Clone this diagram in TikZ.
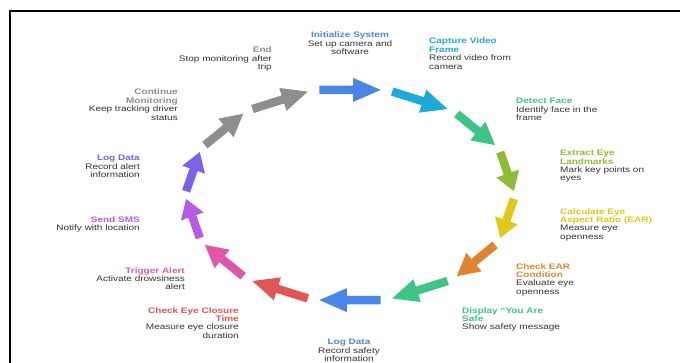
\documentclass[tikz,border=0pt]{standalone}
\usepackage{fontspec}
\setmainfont[FakeStretch=1.25]{Liberation Sans}
\usetikzlibrary{calc}
\definecolor{cBlue}{HTML}{4A86E8}
\definecolor{cCyan}{HTML}{1EAAD8}
\definecolor{cGreen}{HTML}{3CC585}
\definecolor{cLime}{HTML}{8FBC35}
\definecolor{cYellow}{HTML}{E0C816}
\definecolor{cOrange}{HTML}{E0852E}
\definecolor{cRed}{HTML}{E25555}
\definecolor{cPink}{HTML}{E056A8}
\definecolor{cPurple}{HTML}{B65BE3}
\definecolor{cViolet}{HTML}{7B62E8}
\definecolor{cGray}{HTML}{8E8E8E}
\definecolor{desc}{HTML}{333333}
\newcommand{\ttl}[2]{\textcolor{#1}{\bfseries #2}}
\tikzset{
  lbl/.style={inner sep=0pt, font=\fontsize{8}{8.4}\selectfont, text=desc},
  lblL/.style={lbl, anchor=north west, align=left},
  lblR/.style={lbl, anchor=north east, align=right},
  lblC/.style={lbl, anchor=north, align=center},
  frame/.style={line width=2.2pt, draw=black}
}
\begin{document}
\begin{tikzpicture}[x=1pt,y=-1pt]
\useasboundingbox (0,0) rectangle (680,362);
\fill[white] (0,0) rectangle (680,362);
\coordinate (fa) at (10,370);
\coordinate (fb) at (10,11);
\coordinate (fc) at (690,11);
\draw[frame] (fa) -- (fb) -- (fc);

\foreach \i/\c in {0/cBlue,1/cCyan,2/cGreen,3/cLime,4/cYellow,5/cOrange,6/cGreen,7/cBlue,8/cRed,9/cPink,10/cPurple,11/cViolet,12/cGray,13/cGray}{
  \pgfmathsetmacro\cc{90-\i*360/14}
  \coordinate (t\i) at ({350+164*cos(\cc+10.8)},{195-107*sin(\cc+10.8)});
  \coordinate (h\i) at ({350+164*cos(\cc-10.8)},{195-107*sin(\cc-10.8)});
  \coordinate (b\i) at ($(h\i)!0.45!(t\i)$);
  \fill[\c] ($(t\i)!4.2pt!90:(h\i)$) -- ($(b\i)!4.2pt!90:(h\i)$) -- ($(b\i)!12pt!90:(h\i)$)
     -- (h\i) -- ($(b\i)!12pt!-90:(h\i)$) -- ($(b\i)!4.2pt!-90:(h\i)$) -- ($(t\i)!4.2pt!-90:(h\i)$) -- cycle;
}

\node[lblC] (init) at (350,32) {\ttl{cBlue}{Initialize System}\\Set up camera and\\software};
\node[lblL] (capture) at (429,38) {\ttl{cCyan}{Capture Video}\\\ttl{cCyan}{Frame}\\Record video from\\camera};
\node[lblL] (detect) at (516,98) {\ttl{cGreen}{Detect Face}\\Identify face in the\\frame};
\node[lblL] (extract) at (560,150) {\ttl{cLime}{Extract Eye}\\\ttl{cLime}{Landmarks}\\Mark key points on\\eyes};
\node[lblL] (ear) at (560,208) {\ttl{cYellow}{Calculate Eye}\\\ttl{cYellow}{Aspect Ratio (EAR)}\\Measure eye\\openness};
\node[lblL] (check) at (516,263) {\ttl{cOrange}{Check EAR}\\\ttl{cOrange}{Condition}\\Evaluate eye\\openness};
\node[lblL] (safe) at (462,307) {\ttl{cGreen}{Display “You Are}\\\ttl{cGreen}{Safe}\\Show safety message};
\node[lblC] (logsafe) at (349,339) {\ttl{cBlue}{Log Data}\\Record safety\\information};
\node[lblR] (closure) at (239,307) {\ttl{cRed}{Check Eye Closure}\\\ttl{cRed}{Time}\\Measure eye closure\\duration};
\node[lblR] (trigger) at (185,267) {\ttl{cPink}{Trigger Alert}\\Activate drowsiness\\alert};
\node[lblR] (sms) at (140,216) {\ttl{cPurple}{Send SMS}\\Notify with location};
\node[lblR] (logalert) at (140,155) {\ttl{cViolet}{Log Data}\\Record alert\\information};
\node[lblR] (continue) at (178,89) {\ttl{cGray}{Continue}\\\ttl{cGray}{Monitoring}\\Keep tracking driver\\status};
\node[lblR] (end) at (272,47) {\ttl{cGray}{End}\\Stop monitoring after\\trip};
\end{tikzpicture}
\end{document}
